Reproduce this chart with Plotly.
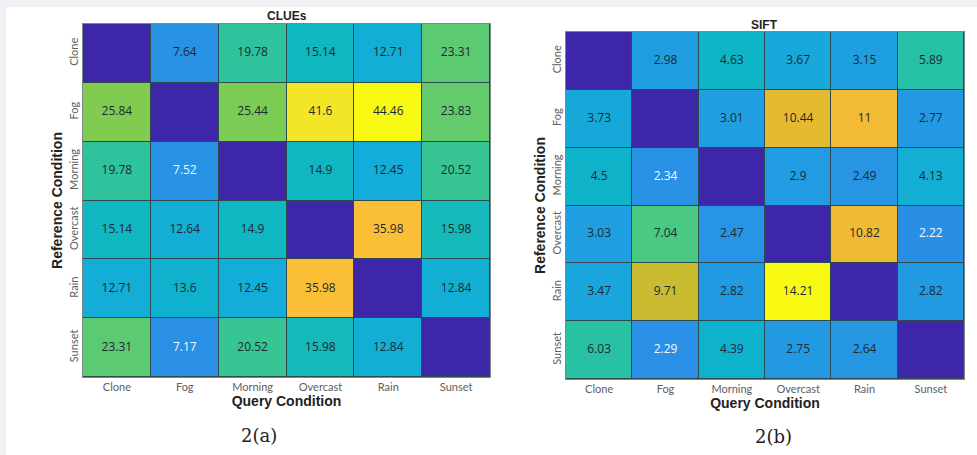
import plotly.graph_objects as go

conditions = ["Clone", "Fog", "Morning", "Overcast", "Rain", "Sunset"]

# rows = reference condition (top to bottom), cols = query condition
clues_values = [
    [0, 7.64, 19.78, 15.14, 12.71, 23.31],
    [25.84, 0, 25.44, 41.6, 44.46, 23.83],
    [19.78, 7.52, 0, 14.9, 12.45, 20.52],
    [15.14, 12.64, 14.9, 0, 35.98, 15.98],
    [12.71, 13.6, 12.45, 35.98, 0, 12.84],
    [23.31, 7.17, 20.52, 15.98, 12.84, 0],
]
sift_values = [
    [0, 2.98, 4.63, 3.67, 3.15, 5.89],
    [3.73, 0, 3.01, 10.44, 11, 2.77],
    [4.5, 2.34, 0, 2.9, 2.49, 4.13],
    [3.03, 7.04, 2.47, 0, 10.82, 2.22],
    [3.47, 9.71, 2.82, 14.21, 0, 2.82],
    [6.03, 2.29, 4.39, 2.75, 2.64, 0],
]

colorscale = [
    [0.00, "#3e26a8"],
    [0.16, "#2a90e6"],
    [0.22, "#1ea0e0"],
    [0.28, "#14acd8"],
    [0.33, "#0cb6c4"],
    [0.45, "#30c49a"],
    [0.51, "#52ca7c"],
    [0.58, "#80cc50"],
    [0.68, "#c8bc30"],
    [0.74, "#e8ba30"],
    [0.80, "#fcbc38"],
    [0.93, "#f2e428"],
    [1.00, "#f8fa14"],
]

W, H = 977, 455
def px_x(a, b):
    return [a / W, b / W]
def px_y(top, bottom):
    return [1 - bottom / H, 1 - top / H]

fig = go.Figure()

def add_panel(values, xa, ya):
    zmax = max(max(r) for r in values)
    fig.add_trace(go.Heatmap(
        z=values, x=conditions, y=conditions,
        colorscale=colorscale, zmin=0, zmax=zmax,
        showscale=False, xgap=1, ygap=1, hoverinfo="skip",
        xaxis=xa, yaxis=ya,
    ))
    xs, ys, ts, cs = [], [], [], []
    for i, row in enumerate(values):
        for j, v in enumerate(row):
            if i == j:
                continue
            xs.append(conditions[j]); ys.append(conditions[i])
            ts.append(f"{v:g}")
            cs.append("#f4f8ff" if v / zmax < 0.17 else "#1c2a30")
    fig.add_trace(go.Scatter(
        x=xs, y=ys, text=ts, mode="text",
        textfont=dict(color=cs, size=12, family="Open Sans"),
        hoverinfo="skip", showlegend=False, xaxis=xa, yaxis=ya,
    ))

add_panel(clues_values, "x", "y")
add_panel(sift_values, "x2", "y2")

tickfont = dict(family="Lato", size=11, color="#5e5e5e")
titlefont = dict(family="Liberation Sans", size=14, color="#222222")

common_x = dict(type="category", categoryorder="array", categoryarray=conditions,
                tickfont=tickfont, ticks="", showgrid=False, zeroline=False, automargin=False,
                showline=True, linecolor="#7a8a8a", mirror=True,
                title=dict(text="<b>Query Condition</b>", font=titlefont, standoff=0))
common_y = dict(type="category", categoryorder="array", categoryarray=conditions[::-1],
                tickfont=tickfont, ticks="", tickangle=-90, showgrid=False, zeroline=False,
                automargin=False,
                showline=True, linecolor="#7a8a8a", mirror=True,
                title=dict(text="<b>Reference Condition</b>", font=titlefont, standoff=0))

def label(text, xpx, ypx, font):
    return dict(text=text, xref="paper", yref="paper", x=xpx / W, y=1 - ypx / H,
                xanchor="center", yanchor="middle", showarrow=False, font=font)

fig.update_layout(
    width=W, height=H,
    margin=dict(l=0, r=0, t=0, b=0),
    paper_bgcolor="#ffffff",
    plot_bgcolor="#2e4a4e",
    showlegend=False,
    xaxis=dict(domain=px_x(83, 490), anchor="y", **common_x),
    yaxis=dict(domain=px_y(24, 377), anchor="x", **common_y),
    xaxis2=dict(domain=px_x(566, 964), anchor="y2", **common_x),
    yaxis2=dict(domain=px_y(32, 379), anchor="x2", **common_y),
    shapes=[
        dict(type="rect", xref="paper", yref="paper", layer="below",
             x0=0, x1=1, y0=1 - 7 / H, y1=1, fillcolor="#eff0f3", line=dict(width=0)),
        dict(type="rect", xref="paper", yref="paper", layer="below",
             x0=0, x1=6 / W, y0=0, y1=1, fillcolor="#eff0f3", line=dict(width=0)),
    ],
    annotations=[
        label("<b>CLUEs</b>", 287, 16, dict(family="Liberation Sans", size=12, color="#222222")),
        label("<b>SIFT</b>", 764, 25, dict(family="Liberation Sans", size=12, color="#222222")),
        label("2(a)", 259, 435, dict(family="DejaVu Serif", size=18, color="#222222")),
        label("2(b)", 773, 436, dict(family="DejaVu Serif", size=18, color="#222222")),
    ],
)

fig.write_html("out.html", config={"displayModeBar": False},
               post_script="document.body.style.margin='0';")
